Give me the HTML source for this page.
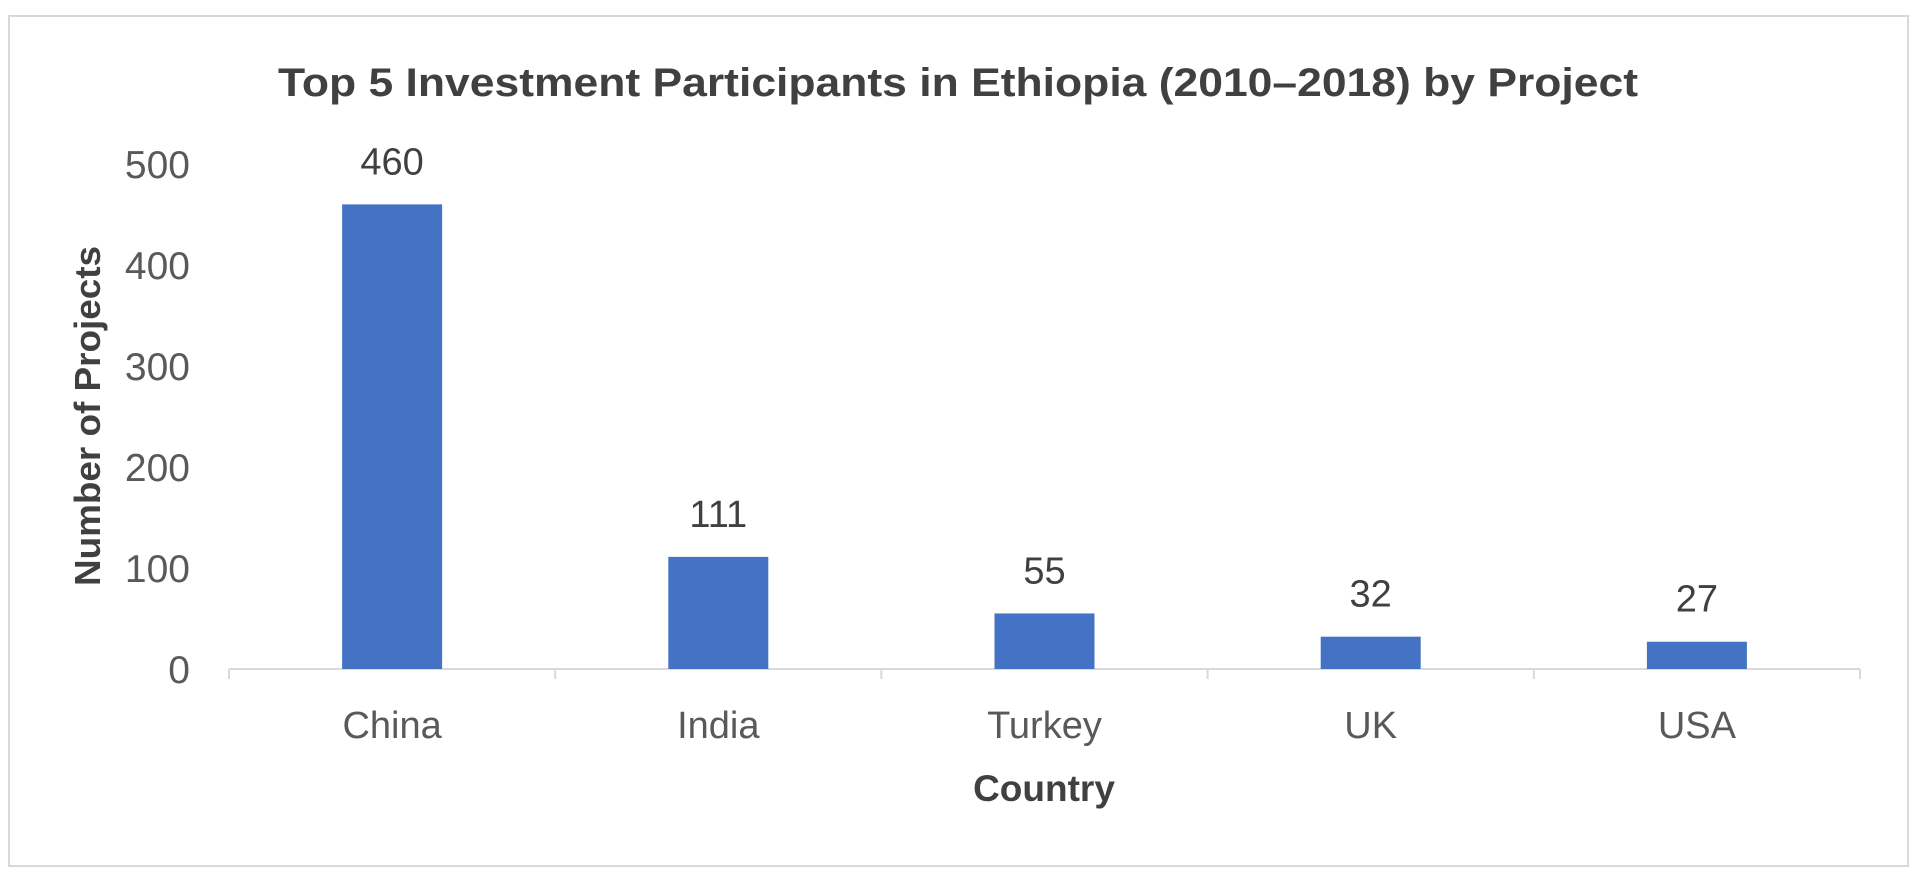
<!DOCTYPE html>
<html><head><meta charset="utf-8"><style>
html,body{margin:0;padding:0;background:#fff;}
svg{display:block;font-family:"Liberation Sans",sans-serif;}
</style></head><body>
<svg id="chart" width="1920" height="883">
<rect x="9" y="16" width="1899" height="850" fill="#fff" stroke="#d9d9d9" stroke-width="2"/>
<text x="958" y="96" text-anchor="middle" font-size="40" font-weight="bold" fill="#404040" textLength="1360" lengthAdjust="spacingAndGlyphs">Top 5 Investment Participants in Ethiopia (2010–2018) by Project</text>
<text transform="translate(100,416) rotate(-90)" text-anchor="middle" font-size="36" font-weight="bold" fill="#404040" textLength="340" lengthAdjust="spacingAndGlyphs">Number of Projects</text>
<text x="1044" y="801" text-anchor="middle" font-size="37" font-weight="bold" fill="#404040">Country</text>
<g id="plot"></g>
</svg>
<script>
const categories = ["China","India","Turkey","UK","USA"];
const values = [460,111,55,32,27];
const yTicks = [0,100,200,300,400,500];
const yMax = 500;
const X0 = 229, X1 = 1860, Y0 = 669, Y1 = 164, BW = 100;
const NS = "http://www.w3.org/2000/svg";
const g = document.getElementById('plot');
const band = (X1 - X0) / categories.length;
const xc = i => X0 + band * (i + 0.5);
const y = v => Y0 - (v / yMax) * (Y0 - Y1);
function mk(tag, attrs, text){const e=document.createElementNS(NS,tag);for(const k in attrs)e.setAttribute(k,attrs[k]);if(text!==undefined)e.textContent=text;g.appendChild(e);return e;}
yTicks.forEach(t=>{
  const e = mk('text',{x:190,y:y(t)+14,'text-anchor':'end','font-size':39,fill:'#595959'},String(t));
  
  
});
const ax = mk('line',{x1:X0,y1:Y0,x2:X1,y2:Y0,stroke:'#d9d9d9','stroke-width':2});


for(let i=0;i<=categories.length;i++){
  const tk = mk('line',{x1:X0+band*i,y1:Y0,x2:X0+band*i,y2:Y0+10,stroke:'#d9d9d9','stroke-width':2});
  
  
}
categories.forEach((c,i)=>{
  const b = mk('rect',{x:xc(i)-BW/2,y:y(values[i]),width:BW,height:Y0-y(values[i]),fill:'#4472C4'});
  
  
  const v = mk('text',{x:xc(i),y:y(values[i])-30,'text-anchor':'middle','font-size':38,fill:'#404040'},String(values[i]));
  
  
  const l = mk('text',{x:xc(i),y:738,'text-anchor':'middle','font-size':38,fill:'#595959'},c);
  
  
});
</script>
</body></html>
